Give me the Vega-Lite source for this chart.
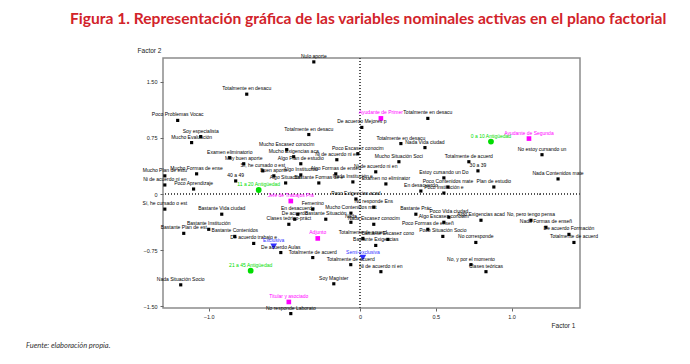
{
  "$schema": "https://vega.github.io/schema/vega-lite/v6.json",
  "background": "white",
  "padding": {"left": 25, "top": 11, "right": 5, "bottom": 5},
  "config": {"view": {"stroke": "#8c8c8c", "strokeWidth": 1.5}, "font": "Liberation Sans"},
  "title": {"text": "Figura 1. Representación gráfica de las variables nominales activas en el plano factorial", "anchor": "start", "frame": "group", "dx": -93, "font": "Lato", "fontSize": 15.6, "fontWeight": "bold", "color": "#d2232a", "offset": 19},
  "vconcat": [
    {
      "width": 417,
      "height": 250,
      "title": {"text": "Fuente: elaboración propia.", "orient": "bottom", "anchor": "start", "frame": "group", "dx": -137, "offset": 13, "font": "Lato", "fontStyle": "italic", "fontSize": 7.5, "fontWeight": "normal", "color": "#333333"},
      "data": {"values": [
        {"label": "Nulo aporte", "x": -0.306, "y": 1.768, "grupo": "Otra"},
        {"label": "Totalmente en desacu", "x": -0.749, "y": 1.336, "grupo": "Otra"},
        {"label": "Poco Problemas Vocac", "x": -1.205, "y": 0.985, "grupo": "Otra"},
        {"label": "Soy especialista", "x": -1.053, "y": 0.769, "grupo": "Otra"},
        {"label": "Mucho Evaluación", "x": -1.113, "y": 0.688, "grupo": "Otra"},
        {"label": "Examen eliminatorio", "x": -0.861, "y": 0.486, "grupo": "Otra"},
        {"label": "Muy buen aporte", "x": -0.769, "y": 0.405, "grupo": "Otra"},
        {"label": "Mucho Formas de ense", "x": -1.08, "y": 0.27, "grupo": "Otra"},
        {"label": "40 a 49", "x": -0.822, "y": 0.175, "grupo": "Otra"},
        {"label": "Mucho Plan de estu", "x": -1.29, "y": 0.243, "grupo": "Otra"},
        {"label": "Ni de acuerdo ni en", "x": -1.29, "y": 0.121, "grupo": "Otra"},
        {"label": "Poco Aprendizaje", "x": -1.1, "y": 0.067, "grupo": "Otra"},
        {"label": "Sí, he cursado o est", "x": -1.29, "y": -0.202, "grupo": "Otra"},
        {"label": "Bastante Vida ciudad", "x": -0.914, "y": -0.27, "grupo": "Otra"},
        {"label": "Bastante Institución", "x": -1.0, "y": -0.472, "grupo": "Otra"},
        {"label": "Bastante Plan de est", "x": -1.165, "y": -0.526, "grupo": "Otra"},
        {"label": "Bastante Contenidos", "x": -0.828, "y": -0.567, "grupo": "Otra"},
        {"label": "De acuerdo trabajo e", "x": -0.703, "y": -0.661, "grupo": "Otra"},
        {"label": "Nada Situación Socio", "x": -1.185, "y": -1.215, "grupo": "Otra"},
        {"label": "Totalmente en desacu", "x": -0.339, "y": 0.796, "grupo": "Otra"},
        {"label": "De acuerdo Mejores p", "x": 0.011, "y": 0.891, "grupo": "Otra"},
        {"label": "Totalmente en desacu", "x": 0.447, "y": 1.012, "grupo": "Otra"},
        {"label": "Totalmente en desacu", "x": 0.269, "y": 0.675, "grupo": "Otra"},
        {"label": "Mucho Escasez conocim", "x": -0.485, "y": 0.594, "grupo": "Otra"},
        {"label": "Mucho Exigencias aca", "x": -0.439, "y": 0.499, "grupo": "Otra"},
        {"label": "Poco Escasez conocim", "x": -0.015, "y": 0.54, "grupo": "Otra"},
        {"label": "Algo Plan de estudio", "x": -0.392, "y": 0.405, "grupo": "Otra"},
        {"label": "Sí, he cursado o est", "x": -0.643, "y": 0.31, "grupo": "Otra"},
        {"label": "Buen aporte", "x": -0.57, "y": 0.243, "grupo": "Otra"},
        {"label": "Algo Institución", "x": -0.392, "y": 0.256, "grupo": "Otra"},
        {"label": "Algo Formas de enseñ", "x": -0.161, "y": 0.27, "grupo": "Otra"},
        {"label": "Algo Situación", "x": -0.492, "y": 0.148, "grupo": "Otra"},
        {"label": "Bastante Formas de e", "x": -0.273, "y": 0.148, "grupo": "Otra"},
        {"label": "Nada Institución e", "x": -0.048, "y": 0.162, "grupo": "Otra"},
        {"label": "Examen no eliminator", "x": 0.17, "y": 0.135, "grupo": "Otra"},
        {"label": "Ni de acuerdo ni en", "x": -0.154, "y": 0.459, "grupo": "Otra"},
        {"label": "Ni de acuerdo ni en", "x": 0.103, "y": 0.297, "grupo": "Otra"},
        {"label": "Mucho Situación Soci", "x": 0.256, "y": 0.432, "grupo": "Otra"},
        {"label": "Nada Vida ciudad", "x": 0.428, "y": 0.621, "grupo": "Otra"},
        {"label": "Estoy cursando un Do", "x": 0.553, "y": 0.216, "grupo": "Otra"},
        {"label": "Poco Contenidos mate", "x": 0.58, "y": 0.094, "grupo": "Otra"},
        {"label": "Plan de estudio", "x": 0.883, "y": 0.094, "grupo": "Otra"},
        {"label": "En desacuerdo", "x": 0.401, "y": 0.04, "grupo": "Otra"},
        {"label": "Poco Institución e", "x": 0.553, "y": 0.013, "grupo": "Otra"},
        {"label": "Poco Exigencias acad", "x": -0.028, "y": -0.067, "grupo": "Otra"},
        {"label": "No responde Ens", "x": 0.09, "y": -0.175, "grupo": "Otra"},
        {"label": "Bastante Prác", "x": 0.368, "y": -0.27, "grupo": "Otra"},
        {"label": "Poco Vida ciudad", "x": 0.586, "y": -0.31, "grupo": "Otra"},
        {"label": "Algo Escasez conocim", "x": 0.553, "y": -0.378, "grupo": "Otra"},
        {"label": "Algo Exigencias acad", "x": 0.798, "y": -0.351, "grupo": "Otra"},
        {"label": "Poco Formas de enseñ", "x": 0.447, "y": -0.472, "grupo": "Otra"},
        {"label": "Poco Situación Socio", "x": 0.546, "y": -0.567, "grupo": "Otra"},
        {"label": "No corresponde", "x": 0.764, "y": -0.648, "grupo": "Otra"},
        {"label": "No, pero tengo pensa", "x": 1.128, "y": -0.351, "grupo": "Otra"},
        {"label": "Nada Formas de enseñ", "x": 1.227, "y": -0.445, "grupo": "Otra"},
        {"label": "De acuerdo Formación", "x": 1.379, "y": -0.54, "grupo": "Otra"},
        {"label": "Totalmente de acuerd", "x": 1.412, "y": -0.648, "grupo": "Otra"},
        {"label": "No, y por el momento", "x": 0.732, "y": -0.945, "grupo": "Otra"},
        {"label": "Clases teóricas", "x": 0.831, "y": -1.039, "grupo": "Otra"},
        {"label": "Ni de acuerdo ni en", "x": 0.137, "y": -1.039, "grupo": "Otra"},
        {"label": "Soy Magíster", "x": -0.174, "y": -1.201, "grupo": "Otra"},
        {"label": "Totalmente de acuerd", "x": -0.062, "y": -0.945, "grupo": "Otra"},
        {"label": "Totalmente de acuerd", "x": -0.313, "y": -0.85, "grupo": "Otra"},
        {"label": "De acuerdo Aulas", "x": -0.524, "y": -0.783, "grupo": "Otra"},
        {"label": "No responde Laborato", "x": -0.458, "y": -1.6, "grupo": "Otra"},
        {"label": "Totalmente de acuerd", "x": 0.718, "y": 0.432, "grupo": "Otra"},
        {"label": "30 a 39", "x": 0.778, "y": 0.31, "grupo": "Otra"},
        {"label": "No estoy cursando un", "x": 1.201, "y": 0.526, "grupo": "Otra"},
        {"label": "Nada Contenidos mate", "x": 1.307, "y": 0.202, "grupo": "Otra"},
        {"label": "Femenino", "x": -0.313, "y": -0.202, "grupo": "Otra"},
        {"label": "Mucho Contenidos mat", "x": -0.061, "y": -0.256, "grupo": "Otra"},
        {"label": "Clases teórico-práct", "x": -0.471, "y": -0.405, "grupo": "Otra"},
        {"label": "En desacuerdo", "x": -0.412, "y": -0.27, "grupo": "Otra"},
        {"label": "De acuerdo", "x": -0.432, "y": -0.337, "grupo": "Otra"},
        {"label": "Bastante Situación", "x": -0.227, "y": -0.337, "grupo": "Otra"},
        {"label": "Nada", "x": -0.061, "y": -0.378, "grupo": "Otra"},
        {"label": "Nada Escasez conocim", "x": 0.09, "y": -0.405, "grupo": "Otra"},
        {"label": "Totalmente de acuerd", "x": 0.018, "y": -0.594, "grupo": "Otra"},
        {"label": "Bastante Escasez cono", "x": 0.183, "y": -0.607, "grupo": "Otra"},
        {"label": "Bastante Exigencias", "x": 0.103, "y": -0.688, "grupo": "Otra"},
        {"label": "Ayudante de Primer", "x": 0.137, "y": 1.012, "grupo": "Cargo"},
        {"label": "Ayudante de Segunda", "x": 1.115, "y": 0.742, "grupo": "Cargo"},
        {"label": "Jefe de Trabajos Prá", "x": -0.458, "y": -0.094, "grupo": "Cargo"},
        {"label": "Adjunto", "x": -0.28, "y": -0.594, "grupo": "Cargo"},
        {"label": "Titular y asociado", "x": -0.471, "y": -1.444, "grupo": "Cargo"},
        {"label": "0 a 10 Antigüedad", "x": 0.864, "y": 0.702, "grupo": "Antigüedad"},
        {"label": "11 a 20 Antigüedad", "x": -0.67, "y": 0.054, "grupo": "Antigüedad"},
        {"label": "21 a 45 Antigüedad", "x": -0.723, "y": -1.026, "grupo": "Antigüedad"},
        {"label": "Semi-exclusiva", "x": 0.018, "y": -0.85, "grupo": "Dedicación"},
        {"label": "Exclusiva", "x": -0.571, "y": -0.702, "grupo": "Dedicación"}
      ]},
      "encoding": {
        "x": {"field": "x", "type": "quantitative", "scale": {"domain": [-1.302, 1.452], "nice": false, "zero": false},
          "axis": {"values": [-1, 0, 0.5, 1], "labelExpr": "datum.value == 0 ? '0' : format(datum.value, '.1f')", "grid": false, "domain": false, "tickSize": 3, "tickColor": "#666666", "labelFontSize": 5.5, "labelColor": "#222222", "labelPadding": 3, "title": "Factor 1", "titleFontSize": 6.5, "titleFontWeight": "normal", "titleColor": "#222222", "titleX": 400, "titleY": 17, "titleAlign": "center", "titleBaseline": "middle"}},
        "y": {"field": "y", "type": "quantitative", "scale": {"domain": [-1.525, 1.82], "nice": false, "zero": false},
          "axis": {"values": [-1.5, -0.75, 0, 0.75, 1.5], "labelExpr": "datum.value == 0 ? '0' : format(datum.value, '.2f')", "grid": false, "domain": false, "tickSize": 3, "tickColor": "#666666", "labelFontSize": 5.5, "labelColor": "#222222", "labelPadding": 3, "title": "Factor 2", "titleAngle": 0, "titleFontSize": 6.5, "titleFontWeight": "normal", "titleColor": "#222222", "titleX": -14, "titleY": -8, "titleAlign": "center", "titleBaseline": "middle"}}
      },
      "layer": [
        {"mark": {"type": "rule", "strokeDash": [1, 2], "color": "#555555", "strokeWidth": 0.8}, "encoding": {"x": null, "y": {"datum": 0, "type": "quantitative"}}},
        {"mark": {"type": "rule", "strokeDash": [1, 2], "color": "#555555", "strokeWidth": 0.8}, "encoding": {"y": null, "x": {"datum": 0, "type": "quantitative"}}},
        {"mark": {"type": "point", "filled": true, "opacity": 1},
          "encoding": {
            "color": {"field": "grupo", "type": "nominal", "scale": {"domain": ["Otra", "Cargo", "Antigüedad", "Dedicación"], "range": ["#000000", "#ff00ff", "#00dd00", "#3030ff"]}, "legend": null},
            "shape": {"field": "grupo", "type": "nominal", "scale": {"domain": ["Otra", "Cargo", "Antigüedad", "Dedicación"], "range": ["square", "square", "circle", "triangle-down"]}, "legend": null},
            "size": {"field": "grupo", "type": "nominal", "scale": {"domain": ["Otra", "Cargo", "Antigüedad", "Dedicación"], "range": [10, 45, 30, 40]}, "legend": null}
          }},
        {"mark": {"type": "text", "dy": -6, "font": "Liberation Sans", "fontSize": 5, "align": "center", "baseline": "middle"},
          "encoding": {
            "text": {"field": "label"},
            "color": {"field": "grupo", "type": "nominal", "scale": {"domain": ["Otra", "Cargo", "Antigüedad", "Dedicación"], "range": ["#000000", "#ff00ff", "#00dd00", "#3030ff"]}, "legend": null}
          }}
      ]
    }
  ]
}
